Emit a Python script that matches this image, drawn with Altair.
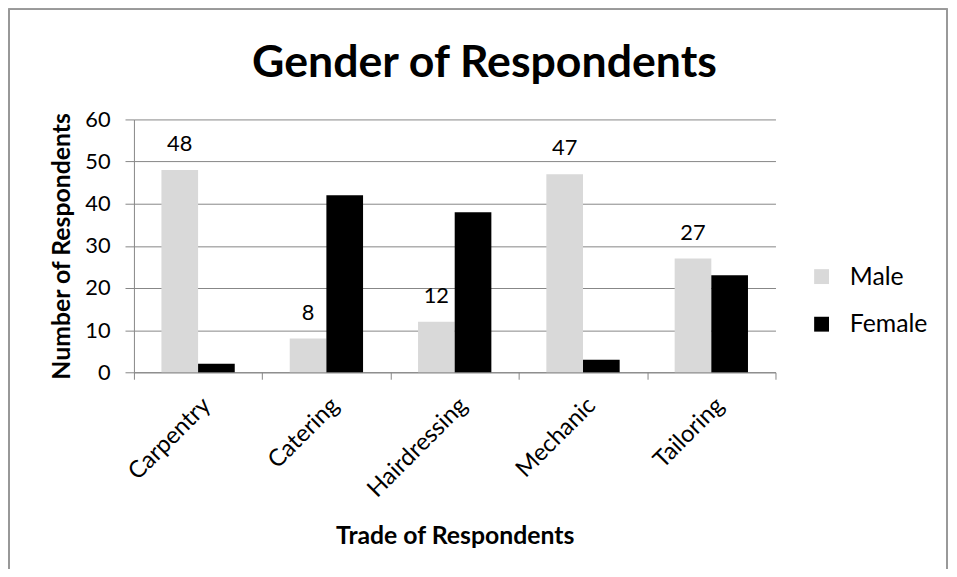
import altair as alt
import pandas as pd

trades = ["Carpentry", "Catering", "Hairdressing", "Mechanic", "Tailoring"]
male = [48, 8, 12, 47, 27]
female = [2, 42, 38, 3, 23]
genders = ["Male", "Female"]
colors = ["#D9D9D9", "#000000"]

rows = []
for t, m, f in zip(trades, male, female):
    rows.append({"Trade": t, "Gender": "Male", "Count": m})
    rows.append({"Trade": t, "Gender": "Female", "Count": f})
df = pd.DataFrame(rows)

FONT = "Lato"

x = alt.X("Trade:N", sort=trades, scale=alt.Scale(paddingInner=0, paddingOuter=0),
          axis=alt.Axis(title="Trade of Respondents", labelAngle=-45, labelAlign="right",
                        labelBaseline="top", labelFontSize=24, labelPadding=14,
                        tickBand="extent", tickSize=7, titleFontSize=25, titleFontWeight="bold",
                        titlePadding=22, domainColor="#868686", tickColor="#868686", grid=False))
y = alt.Y("Count:Q", scale=alt.Scale(domain=[0, 60], nice=False),
          axis=alt.Axis(title="Number of Respondents", values=[0, 10, 20, 30, 40, 50, 60],
                        labelFontSize=22, tickSize=9, labelPadding=15, titleFontSize=25,
                        titleFontWeight="bold", titlePadding=10, domainColor="#868686",
                        tickColor="#868686", gridColor="#868686", gridWidth=1))
xo = alt.XOffset("Gender:N", sort=genders,
                 scale=alt.Scale(domain=genders, paddingInner=0, paddingOuter=0.75))

bars = alt.Chart(df).mark_bar().encode(
    x=x, y=y, xOffset=xo,
    color=alt.Color("Gender:N", sort=genders,
                    scale=alt.Scale(domain=genders, range=colors),
                    legend=alt.Legend(title=None, symbolType="square", symbolSize=225,
                                      labelFontSize=25, rowPadding=22, orient="none",
                                      legendX=681, legendY=146, labelOffset=16,
                                      symbolStrokeWidth=0)),
)

labels = alt.Chart(df).transform_filter(alt.datum.Gender == "Male").mark_text(
    baseline="alphabetic", dy=-19, fontSize=22, font=FONT, color="#000000"
).encode(x=x, y=y, xOffset=xo, text="Count:Q")

border = alt.Chart(df).mark_rect(filled=False, stroke="#999999", strokeWidth=1.5, clip=False).encode(
    x=alt.value(-126), x2=alt.value(820), y=alt.value(-111), y2=alt.value(600)
)

chart = alt.layer(bars, labels, border).properties(
    width=647, height=255,
    title=alt.Title("Gender of Respondents", fontSize=45, font=FONT, fontWeight="bold",
                    anchor="middle", frame="group", offset=0, dx=30, dy=114, baseline="alphabetic"),
    padding={"left": 127, "top": 110, "right": 175, "bottom": 196},
    autosize=alt.AutoSizeParams(type="none"),
).configure(font=FONT).configure_view(stroke=None).configure_axis(
    labelFont=FONT, titleFont=FONT, labelColor="#000000", titleColor="#000000"
).configure_legend(labelFont=FONT, labelColor="#000000")

chart.save("out.html", embed_options={"renderer": "svg", "actions": False})
